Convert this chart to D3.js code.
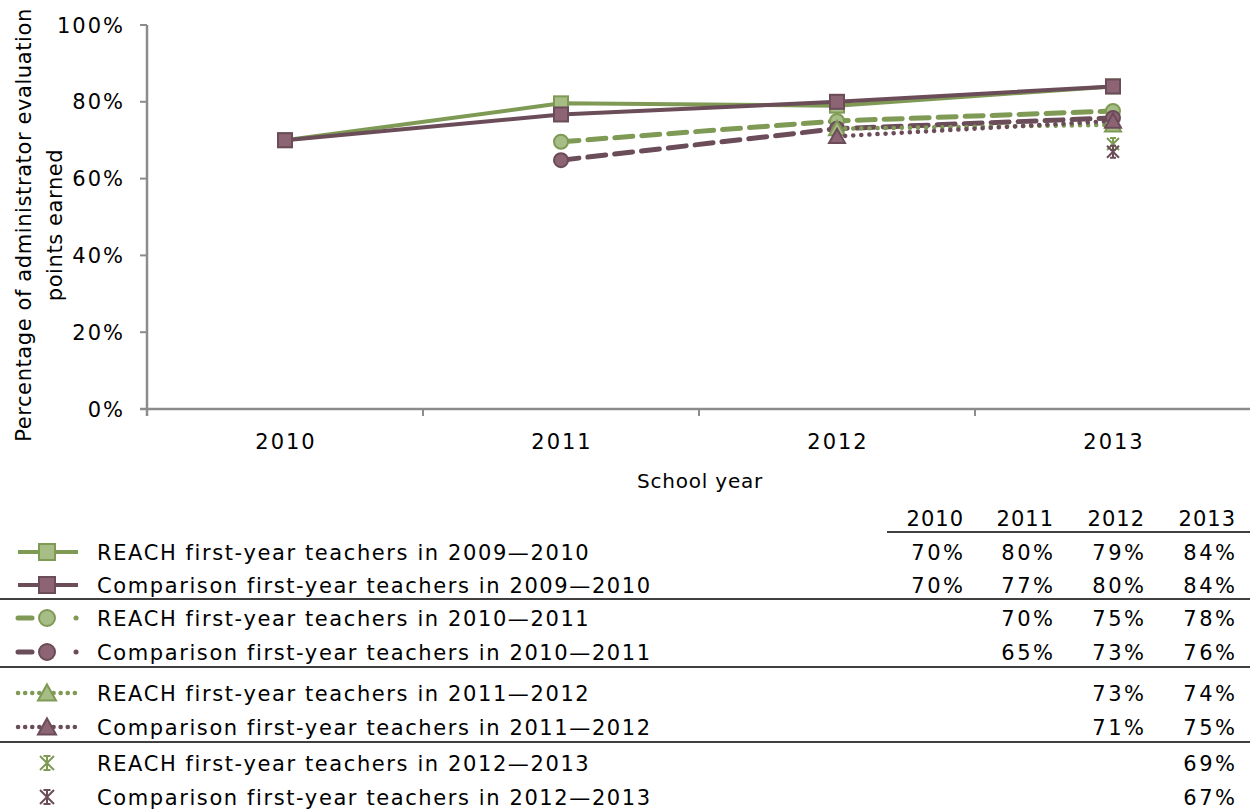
<!DOCTYPE html>
<html><head><meta charset="utf-8">
<script src="https://cdn.jsdelivr.net/npm/d3@7/dist/d3.min.js"></script>
<style>
html,body{margin:0;padding:0;background:#fff;}
text{font-family:"Century Gothic","URW Gothic","DejaVu Sans",sans-serif;fill:#000;}
</style></head>
<body><svg id="c" width="1250" height="810"></svg>
<script>
// ---- data ----
const years = ["2010", "2011", "2012", "2013"];
const yTicks = [0, 0.2, 0.4, 0.6, 0.8, 1.0];
const seriesNames = [
  "REACH first-year teachers in 2009\u20142010",
  "Comparison first-year teachers in 2009\u20142010",
  "REACH first-year teachers in 2010\u20142011",
  "Comparison first-year teachers in 2010\u20142011",
  "REACH first-year teachers in 2011\u20142012",
  "Comparison first-year teachers in 2011\u20142012",
  "REACH first-year teachers in 2012\u20142013",
  "Comparison first-year teachers in 2012\u20142013"
];
const reach0910 = [0.70, 0.796, 0.79, 0.84];
const comp0910  = [0.70, 0.767, 0.80, 0.84];
const reach1011 = [null, 0.696, 0.75, 0.776];
const comp1011  = [null, 0.648, 0.73, 0.758];
const reach1112 = [null, null, 0.73, 0.74];
const comp1112  = [null, null, 0.71, 0.75];
const reach1213 = [null, null, null, 0.69];
const comp1213  = [null, null, null, 0.67];
const seriesValues = [reach0910, comp0910, reach1011, comp1011, reach1112, comp1112, reach1213, comp1213];
const seriesGroup = ["REACH", "Comparison", "REACH", "Comparison", "REACH", "Comparison", "REACH", "Comparison"];
const seriesMarker = ["square", "square", "circle", "circle", "triangle", "triangle", "star", "star"];
const seriesLine = ["solid", "solid", "dash", "dash", "dot", "dot", "none", "none"];

// ---- styles ----
const lineColor = {REACH: "#7f9a55", Comparison: "#6b4c59"};
const fillColor = {REACH: "#a6bd85", Comparison: "#8d6474"};
const dashStyle = {solid: null, dash: "18,9", dot: "0.1,8"};
const lineWidth = {solid: 4, dash: 5, dot: 4.5};

const svg = d3.select("#c");
const x = d3.scaleBand().domain(years).range([147, 1251]).paddingInner(0).paddingOuter(0);
const y = d3.scaleLinear().domain([0, 1]).range([409, 25]);
const cx = d => x(d) + x.bandwidth() / 2;
const pct = d3.format(".0%");

// axes
const axisCol = "#8c8c8c";
const gy = svg.append("g");
gy.append("line").attr("x1", 147).attr("x2", 147).attr("y1", y(1)).attr("y2", y(0) + 7)
  .attr("stroke", axisCol).attr("stroke-width", 2.5);
yTicks.forEach(t => {
  gy.append("line").attr("x1", 140).attr("x2", 147).attr("y1", y(t)).attr("y2", y(t))
    .attr("stroke", axisCol).attr("stroke-width", 2);
  gy.append("text").attr("x", 125).attr("y", y(t)).attr("dy", "0.36em")
    .attr("text-anchor", "end").attr("font-size", 21).attr("letter-spacing", 2).text(pct(t));
});
const gx = svg.append("g");
gx.append("line").attr("x1", 140).attr("x2", 1250).attr("y1", y(0)).attr("y2", y(0))
  .attr("stroke", axisCol).attr("stroke-width", 2.5);
years.forEach((yr, i) => {
  if (i > 0) gx.append("line").attr("x1", x(yr)).attr("x2", x(yr)).attr("y1", y(0)).attr("y2", y(0) + 7)
    .attr("stroke", axisCol).attr("stroke-width", 2);
  gx.append("text").attr("x", cx(yr) + 1).attr("y", 441).attr("dy", "0.36em")
    .attr("text-anchor", "middle").attr("font-size", 21).attr("letter-spacing", 2).text(yr);
});
svg.append("text").attr("x", 700).attr("y", 481).attr("dy", "0.36em").attr("text-anchor", "middle")
  .attr("font-size", 20).attr("letter-spacing", 0.8).text("School year");
const yt = svg.append("text").attr("transform", "translate(23,225) rotate(-90)")
  .attr("text-anchor", "middle").attr("font-size", 21).attr("letter-spacing", 0.6);
yt.append("tspan").attr("x", 0).attr("dy", "0.36em").text("Percentage of administrator evaluation");
yt.append("tspan").attr("x", 0).attr("dy", "1.52em").text("points earned");

// markers
function marker(g, type, px, py, grp, s) {
  if (type === "square") {
    g.append("rect").attr("x", px - s / 2).attr("y", py - s / 2).attr("width", s).attr("height", s)
      .attr("fill", fillColor[grp]).attr("stroke", lineColor[grp]).attr("stroke-width", 2);
  } else if (type === "circle") {
    g.append("circle").attr("cx", px).attr("cy", py).attr("r", s / 2)
      .attr("fill", fillColor[grp]).attr("stroke", lineColor[grp]).attr("stroke-width", 2);
  } else if (type === "triangle") {
    const h = s * 0.95;
    g.append("path").attr("d", `M${px},${py - h / 2 - 1}L${px + s / 2 + 1},${py + h / 2}L${px - s / 2 - 1},${py + h / 2}Z`)
      .attr("fill", fillColor[grp]).attr("stroke", lineColor[grp]).attr("stroke-width", 2).attr("stroke-linejoin", "miter");
  } else if (type === "star") {
    const r = s / 2 - 1;
    g.append("path").attr("d",
      `M${px - r},${py - r}L${px + r},${py + r}M${px + r},${py - r}L${px - r},${py + r}M${px},${py - r}L${px},${py + r}` +
      `M${px - r / 2},${py - r}L${px + r / 2},${py - r}M${px - r / 2},${py + r}L${px + r / 2},${py + r}`)
      .attr("fill", "none").attr("stroke", lineColor[grp]).attr("stroke-width", 2);
  }
}

// series
const plot = svg.append("g");
seriesValues.forEach((vals, i) => {
  const grp = seriesGroup[i];
  const pts = years.map((yr, j) => ({yr, v: vals[j]})).filter(d => d.v != null);
  const g = plot.append("g");
  if (seriesLine[i] !== "none" && pts.length > 1) {
    const ln = d3.line().x(d => cx(d.yr)).y(d => y(d.v));
    g.append("path").attr("d", ln(pts)).attr("fill", "none").attr("stroke", lineColor[grp])
      .attr("stroke-width", lineWidth[seriesLine[i]]).attr("stroke-linecap", "round")
      .attr("stroke-dasharray", dashStyle[seriesLine[i]]);
  }
  pts.forEach(d => marker(g, seriesMarker[i], cx(d.yr), y(d.v), grp, 14));
});

// legend table
const rowY = [552, 585, 618, 652, 693, 727, 763, 797];
const sepY = [599, 667, 742];
const colRight = [963, 1053, 1144, 1235];
const leg = svg.append("g");
years.forEach((yr, j) => {
  leg.append("text").attr("x", colRight[j] + 1).attr("y", 518).attr("dy", "0.36em")
    .attr("text-anchor", "end").attr("font-size", 21).attr("letter-spacing", 1).text(yr);
});
leg.append("line").attr("x1", 887).attr("x2", 1250).attr("y1", 532).attr("y2", 532)
  .attr("stroke", "#000").attr("stroke-width", 1.5);
sepY.forEach(sy => leg.append("line").attr("x1", 0).attr("x2", 1250).attr("y1", sy).attr("y2", sy)
  .attr("stroke", "#000").attr("stroke-width", 1.5));
seriesNames.forEach((name, i) => {
  const grp = seriesGroup[i];
  const ry = rowY[i];
  const g = leg.append("g");
  if (seriesLine[i] !== "none") {
    g.append("line").attr("x1", 18).attr("x2", 78).attr("y1", ry).attr("y2", ry)
      .attr("stroke", lineColor[grp]).attr("stroke-width", lineWidth[seriesLine[i]])
      .attr("stroke-dasharray", seriesLine[i] === "dash" ? "14,44,0.1,40" : (seriesLine[i] === "dot" ? "0.1,7" : null))
      .attr("stroke-linecap", seriesLine[i] === "solid" ? "butt" : "round");
  }
  marker(g, seriesMarker[i], 47, ry, grp, 16);
  g.append("text").attr("x", 97).attr("y", ry).attr("dy", "0.36em").attr("font-size", 21)
    .attr("letter-spacing", 1.6).text(name);
  seriesValues[i].forEach((v, j) => {
    if (v != null) g.append("text").attr("x", colRight[j] + 2.5).attr("y", ry).attr("dy", "0.36em")
      .attr("text-anchor", "end").attr("font-size", 21).attr("letter-spacing", 2.5).text(pct(v));
  });
});
</script></body></html>
